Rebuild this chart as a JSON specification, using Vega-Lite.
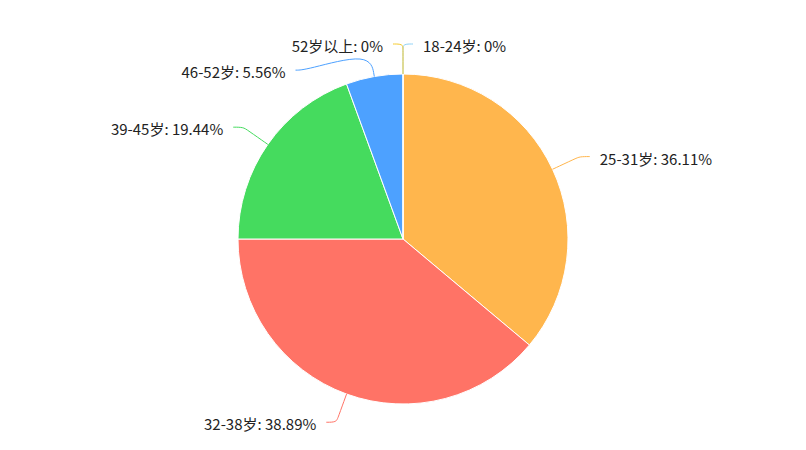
{
  "$schema": "https://vega.github.io/schema/vega-lite/v6.json",
  "width": 806,
  "height": 422,
  "padding": {"left": 0, "right": 0, "top": 28, "bottom": 0},
  "autosize": {"type": "none"},
  "background": "white",
  "config": {"view": {"stroke": null}, "font": "Noto Sans CJK SC"},
  "data": {
    "values": [
      {"label": "18-24岁", "value": 0, "order": 1},
      {"label": "25-31岁", "value": 36.11, "order": 2},
      {"label": "32-38岁", "value": 38.89, "order": 3},
      {"label": "39-45岁", "value": 19.44, "order": 4},
      {"label": "46-52岁", "value": 5.56, "order": 5},
      {"label": "52岁以上", "value": 0, "order": 6}
    ]
  },
  "transform": [
    {"window": [{"op": "sum", "field": "value", "as": "cum"}], "sort": [{"field": "order"}], "frame": [null, 0]},
    {"calculate": "(datum.cum - datum.value / 2) * 3.6", "as": "mid"},
    {"window": [{"op": "lead", "field": "mid", "as": "nextMid"}], "sort": [{"field": "order"}], "frame": [null, null]},
    {"calculate": "datum.mid >= 180 ? 'left' : 'right'", "as": "side"},
    {"calculate": "datum.side == 'left' && isValid(datum.nextMid) && datum.nextMid - datum.mid < 30 ? datum.nextMid - 30 : datum.mid", "as": "labAng"},
    {"calculate": "datum.side == 'left' ? -1 : 1", "as": "dir"},
    {"calculate": "datum.label + ': ' + datum.value + '%'", "as": "text"},
    {"calculate": "195 * sin(datum.labAng * PI / 180) + datum.dir * 20", "as": "tx"},
    {"calculate": "195 * cos(datum.labAng * PI / 180) - 3", "as": "ty"}
  ],
  "layer": [
    {
      "mark": {"type": "arc", "outerRadius": 165, "stroke": "white", "strokeWidth": 1},
      "encoding": {
        "theta": {"field": "value", "type": "quantitative", "stack": true},
        "order": {"field": "order", "type": "quantitative"},
        "color": {
          "field": "label",
          "type": "nominal",
          "scale": {
            "domain": ["18-24岁", "25-31岁", "32-38岁", "39-45岁", "46-52岁", "52岁以上"],
            "range": ["#8FD2F7", "#FFB64D", "#FF7366", "#45DB5E", "#4DA1FF", "#F5CB2E"]
          },
          "legend": null
        }
      }
    },
    {
      "transform": [
        {"calculate": "[0, 1, 2, 3]", "as": "pt"},
        {"flatten": ["pt"]},
        {"calculate": "datum.pt == 0 ? 165 : datum.pt == 1 ? 190 : 195", "as": "rr"},
        {"calculate": "datum.pt <= 1 ? datum.mid : datum.labAng", "as": "aa"},
        {"calculate": "datum.rr * sin(datum.aa * PI / 180) + (datum.pt == 3 ? datum.dir * 10 : 0)", "as": "px"},
        {"calculate": "datum.rr * cos(datum.aa * PI / 180)", "as": "py"}
      ],
      "mark": {"type": "line", "interpolate": "basis", "strokeWidth": 1},
      "encoding": {
        "x": {"field": "px", "type": "quantitative", "scale": {"domain": [-403, 403], "nice": false, "zero": false}, "axis": null},
        "y": {"field": "py", "type": "quantitative", "scale": {"domain": [-211, 211], "nice": false, "zero": false}, "axis": null},
        "color": {"field": "label", "type": "nominal"},
        "detail": {"field": "label"},
        "order": {"field": "pt", "type": "quantitative"}
      }
    },
    {
      "transform": [{"filter": "datum.side == 'right'"}],
      "mark": {"type": "text", "align": "left", "baseline": "middle", "fontSize": 15, "fill": "#222222"},
      "encoding": {
        "x": {"field": "tx", "type": "quantitative"},
        "y": {"field": "ty", "type": "quantitative"},
        "text": {"field": "text"}
      }
    },
    {
      "transform": [{"filter": "datum.side == 'left'"}],
      "mark": {"type": "text", "align": "right", "baseline": "middle", "fontSize": 15, "fill": "#222222"},
      "encoding": {
        "x": {"field": "tx", "type": "quantitative"},
        "y": {"field": "ty", "type": "quantitative"},
        "text": {"field": "text"}
      }
    }
  ]
}
